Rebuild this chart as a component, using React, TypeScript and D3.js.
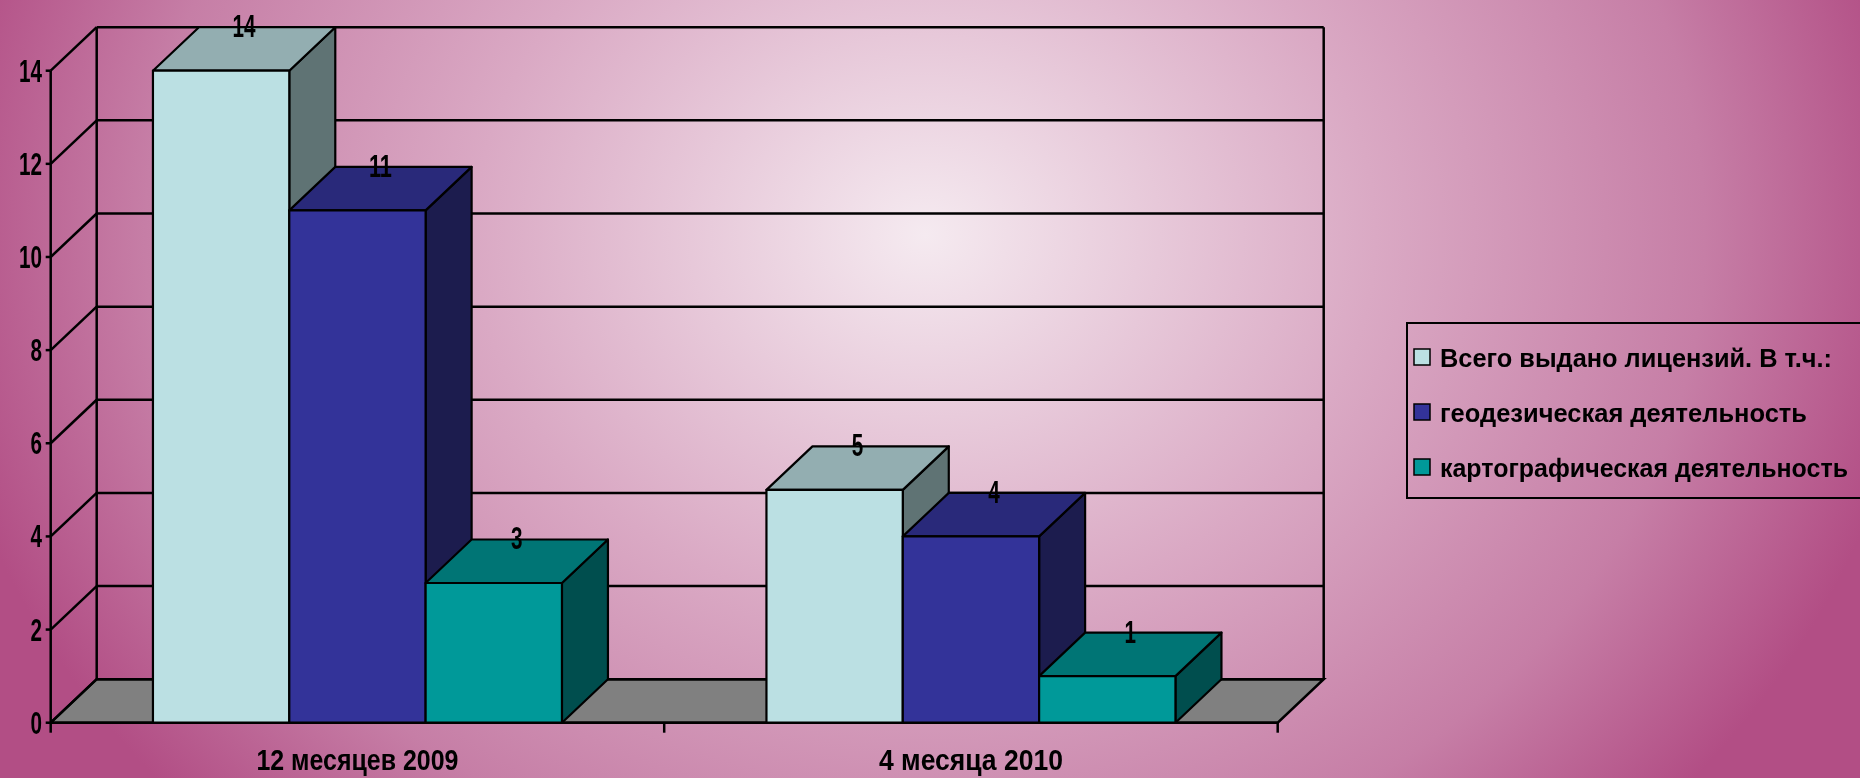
import * as d3 from 'd3';

const categories = ['12 месяцев 2009', '4 месяца 2010'];
const seriesNames = [
  'Всего выдано лицензий. В т.ч.:',
  'геодезическая деятельность',
  'картографическая деятельность',
];
const totalIssued = [14, 5];
const geodetic = [11, 4];
const cartographic = [3, 1];
const yTicks = [0, 2, 4, 6, 8, 10, 12, 14];

const W = 1860;
const H = 778;
const FONT = "'Liberation Sans Narrow', 'Arial Narrow', 'Liberation Sans', Arial, sans-serif";

// front faces / shading per series
const colors = [
  { front: '#BBE0E3', top: '#93AEB1', side: '#5F7374' },
  { front: '#333399', top: '#29297A', side: '#1C1C4E' },
  { front: '#009999', top: '#007575', side: '#004E4E' },
];

// depth of the 3d box
const DX = 46;
const DY = 43.5;

export default function App() {
  const series = [totalIssued, geodetic, cartographic];

  const y = d3.scaleLinear().domain([0, 14]).range([722.7, 70.7]);
  const x0 = d3.scaleBand<string>().domain(categories).range([50.7, 1277.7]);
  const x1 = d3
    .scaleBand<number>()
    .domain([0, 1, 2])
    .range([0, x0.bandwidth()])
    .paddingInner(0)
    .paddingOuter(0.75);

  const x0L = x0.range()[0];
  const x0R = x0.range()[1];
  const floorY = y(0);

  const pts = (p: number[][]) => p.map((d) => d.join(',')).join(' ');

  const bars: JSX.Element[] = [];
  const labels: JSX.Element[] = [];
  categories.forEach((cat, ci) => {
    series.forEach((vals, si) => {
      const v = vals[ci];
      const xl = (x0(cat) as number) + (x1(si) as number);
      const xr = xl + x1.bandwidth();
      const yt = y(v);
      const c = colors[si];
      bars.push(
        <g key={`b${ci}-${si}`} stroke="#000" strokeWidth={2.2} strokeLinejoin="round">
          <polygon
            points={pts([[xr, yt], [xr + DX, yt - DY], [xr + DX, floorY - DY], [xr, floorY]])}
            fill={c.side}
          />
          <polygon
            points={pts([[xl, yt], [xl + DX, yt - DY], [xr + DX, yt - DY], [xr, yt]])}
            fill={c.top}
          />
          <rect x={xl} y={yt} width={xr - xl} height={floorY - yt} fill={c.front} />
        </g>
      );
      const txt = String(v);
      labels.push(
        <text
          key={`l${ci}-${si}`}
          x={(xl + xr) / 2 + DX / 2}
          y={yt - DY + 10}
          textAnchor="middle"
          fontFamily={FONT}
          fontWeight="bold"
          fontSize={31}
          textLength={txt.length * 11.5}
          lengthAdjust="spacingAndGlyphs"
          fill="#000"
        >
          {txt}
        </text>
      );
    });
  });

  const legendWidths = [392, 367, 408];

  return (
    <svg
      width={W}
      height={H}
      viewBox={`0 0 ${W} ${H}`}
      style={{ position: 'fixed', left: 0, top: 0 }}
    >
      <defs>
        <radialGradient
          id="bg"
          gradientUnits="userSpaceOnUse"
          cx={925}
          cy={235}
          r={1000}
          gradientTransform="translate(925,235) scale(1,0.85) translate(-925,-235)"
        >
          <stop offset="0" stopColor="#F5EAF0" />
          <stop offset="0.45" stopColor="#DAA9C4" />
          <stop offset="0.78" stopColor="#C67EA6" />
          <stop offset="1" stopColor="#B24E85" />
        </radialGradient>
      </defs>
      <rect x={0} y={0} width={W} height={H} fill="url(#bg)" />

      {/* floor */}
      <polygon
        points={pts([[x0L, floorY], [x0R, floorY], [x0R + DX, floorY - DY], [x0L + DX, floorY - DY]])}
        fill="#808080"
        stroke="#000"
        strokeWidth={2.5}
      />

      {/* walls and gridlines */}
      <g stroke="#000" strokeWidth={2.5} fill="none">
        {yTicks.map((t) => (
          <g key={t}>
            <line x1={x0L} y1={y(t)} x2={x0L + DX} y2={y(t) - DY} />
            <line x1={x0L + DX} y1={y(t) - DY} x2={x0R + DX} y2={y(t) - DY} />
            <line x1={x0L - 5} y1={y(t)} x2={x0L} y2={y(t)} />
          </g>
        ))}
        <line x1={x0L + DX} y1={y(14) - DY} x2={x0L + DX} y2={floorY - DY} />
        <line x1={x0R + DX} y1={y(14) - DY} x2={x0R + DX} y2={floorY - DY} />
        <line x1={x0L} y1={y(14)} x2={x0L} y2={floorY} />
        <line x1={x0L} y1={floorY} x2={x0R} y2={floorY} />
        {[x0L, x0L + x0.bandwidth(), x0R].map((tx, i) => (
          <line key={i} x1={tx} y1={floorY} x2={tx} y2={floorY + 10} />
        ))}
      </g>

      {bars}
      {labels}

      {/* y axis labels */}
      {yTicks.map((t) => (
        <text
          key={`yt${t}`}
          x={42}
          y={y(t) + 11}
          textAnchor="end"
          fontFamily={FONT}
          fontWeight="bold"
          fontSize={31}
          textLength={String(t).length * 11.5}
          lengthAdjust="spacingAndGlyphs"
          fill="#000"
        >
          {t}
        </text>
      ))}

      {/* category labels */}
      {categories.map((cat, i) => (
        <text
          key={cat}
          x={(x0(cat) as number) + x0.bandwidth() / 2}
          y={770}
          textAnchor="middle"
          fontFamily={FONT}
          fontWeight="bold"
          fontSize={30}
          textLength={i === 0 ? 202 : 184}
          lengthAdjust="spacingAndGlyphs"
          fill="#000"
        >
          {cat}
        </text>
      ))}

      {/* legend */}
      <rect x={1407} y={323} width={470} height={175} fill="none" stroke="#000" strokeWidth={2} />
      {seriesNames.map((name, i) => {
        const cy = 357 + i * 55;
        return (
          <g key={name}>
            <rect x={1414} y={cy - 8} width={16} height={16} fill={colors[i].front} stroke="#000" strokeWidth={1.5} />
            <text
              x={1440}
              y={cy + 10}
              fontFamily={FONT}
              fontWeight="bold"
              fontSize={25}
              textLength={legendWidths[i]}
              lengthAdjust="spacingAndGlyphs"
              fill="#000"
            >
              {name}
            </text>
          </g>
        );
      })}
    </svg>
  );
}
